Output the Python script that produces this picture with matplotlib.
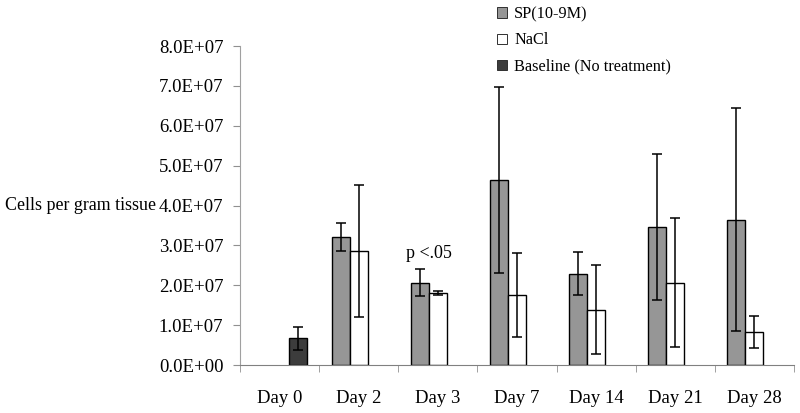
import numpy as np
import matplotlib
matplotlib.use('Agg')
import matplotlib.pyplot as plt
from matplotlib.patches import Patch
from matplotlib.ticker import FuncFormatter, FixedLocator

plt.rcParams['font.family'] = ['Liberation Serif', 'DejaVu Serif']

days = ['Day 0', 'Day 2', 'Day 3', 'Day 7', 'Day 14', 'Day 21', 'Day 28']
nan = np.nan
sp = [nan, 3.21e7, 2.07e7, 4.63e7, 2.29e7, 3.46e7, 3.65e7]
sp_err = [nan, 0.35e7, 0.35e7, 2.33e7, 0.54e7, 1.83e7, 2.80e7]
nacl = [nan, 2.86e7, 1.80e7, 1.75e7, 1.39e7, 2.07e7, 0.83e7]
nacl_err = [nan, 1.65e7, 0.05e7, 1.05e7, 1.11e7, 1.61e7, 0.41e7]
baseline = [0.67e7, nan, nan, nan, nan, nan, nan]
baseline_err = [0.29e7, nan, nan, nan, nan, nan, nan]

series = [
    ('SP(10-9M)', sp, sp_err, '#969696'),
    ('NaCl', nacl, nacl_err, '#ffffff'),
    ('Baseline (No treatment)', baseline, baseline_err, '#3c3c3c'),
]

fig = plt.figure(figsize=(8, 4.13), dpi=100)
ax = fig.add_axes([0.3, 0.116, 0.6925, 0.7726])

x = np.arange(len(days))
w = 0.227
handles = []
for i, (name, vals, errs, color) in enumerate(series):
    vals = np.array(vals)
    errs = np.array(errs)
    m = ~np.isnan(vals)
    xs = x[m] + (i - 1) * w
    ax.bar(xs, vals[m], width=w, color=color, edgecolor='black', linewidth=1.0, zorder=2)
    ax.errorbar(xs, vals[m], yerr=errs[m], fmt='none', ecolor='black',
                elinewidth=1.1, capsize=3.3, capthick=1.1, zorder=3)
    handles.append(Patch(facecolor=color, edgecolor='#303030', linewidth=0.7, label=name))

ax.text(2 - w / 2, 2.8e7, 'p <.05', ha='center', va='center', fontsize=13)

ax.set_xlim(-0.5, len(days) - 0.5)
ax.set_ylim(0, 8e7)
ax.set_yticks(np.arange(0, 8.01e7, 1e7))
ax.yaxis.set_major_formatter(FuncFormatter(lambda v, p: f'{v:.1E}'))
ax.set_xticks(x)
ax.set_xticklabels(days)
ax.xaxis.set_minor_locator(FixedLocator(np.arange(-0.5, len(days), 1.0)))
ax.tick_params(axis='x', which='major', length=0, pad=18, labelsize=13.5)
ax.tick_params(axis='x', which='minor', length=5, direction='out', color='#909090')
ax.tick_params(axis='y', length=5, direction='out', color='#909090', labelsize=13.5, pad=7)

for s in ['top', 'right']:
    ax.spines[s].set_visible(False)
ax.spines['left'].set_color('#a0a0a0')
ax.spines['bottom'].set_color('#808080')

ax.set_ylabel('Cells per gram tissue', rotation=0, fontsize=12.9, ha='left', va='center')
ax.yaxis.set_label_coords(-0.425, 0.5)

fig.legend(handles=handles, loc='upper left', bbox_to_anchor=(0.603, 1.02),
           frameon=False, fontsize=11.7, handlelength=0.6, handleheight=0.6,
           handletextpad=0.45, labelspacing=0.62)

fig.savefig('out.png', dpi=100)
